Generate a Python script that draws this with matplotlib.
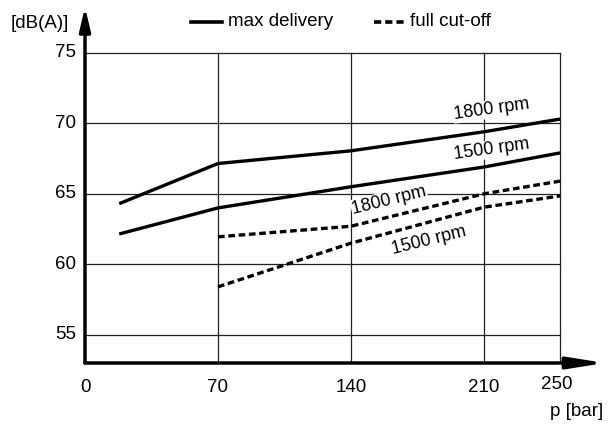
import matplotlib.pyplot as plt

plt.rcParams['font.family'] = ['Liberation Sans', 'DejaVu Sans']

p_max = [18, 70, 140, 210, 250]
max_1800 = [64.3, 67.15, 68.05, 69.4, 70.3]
max_1500 = [62.15, 64.0, 65.5, 66.9, 67.9]

p_cut = [70, 140, 210, 250]
cut_1800 = [61.95, 62.7, 65.0, 65.9]
cut_1500 = [58.4, 61.5, 64.05, 64.85]

x_ticks = [0, 70, 140, 210, 250]
y_ticks = [55, 60, 65, 70, 75]

FS = 13.5
DASH = (0, (2.0, 1.1))
X0, X1 = 0, 273.7
Y0, Y1 = 53.0, 78.25

fig = plt.figure(figsize=(6.16, 4.3), dpi=100)
ax = fig.add_axes([85 / 616, 67 / 430, 520 / 616, 356 / 430])
ax.set_xlim(X0, X1)
ax.set_ylim(Y0, Y1)
ax.axis('off')

# grid
for y in y_ticks:
    ax.plot([0, 250], [y, y], color='#222222', lw=0.9, zorder=1)
    ax.text(-4.5, y, str(y), ha='right', va='center', fontsize=FS)
for x in x_ticks[1:]:
    ax.plot([x, x], [Y0, 75], color='#222222', lw=0.9, zorder=1)
x_shift = {0: 0.5, 250: -1.6}
for x in x_ticks:
    ax.text(x + x_shift.get(x, 0), 51.47 if x == 250 else 51.23, str(x),
            ha='center', va='center', fontsize=FS)

# axes with arrows
ax.annotate('', xy=(X1, Y0), xytext=(0, Y0),
            arrowprops=dict(arrowstyle='-|>,head_length=2.2,head_width=0.35',
                            lw=2.5, color='black', shrinkA=0, shrinkB=0))
ax.annotate('', xy=(0, Y1), xytext=(0, Y0),
            arrowprops=dict(arrowstyle='-|>,head_length=1.4,head_width=0.33',
                            lw=2.5, color='black', shrinkA=0, shrinkB=0))

ax.plot(p_max, max_1800, color='black', lw=2.4, solid_capstyle='butt', zorder=3)
ax.plot(p_max, max_1500, color='black', lw=2.4, solid_capstyle='butt', zorder=3)
ax.plot(p_cut, cut_1800, color='black', lw=2.4, ls=DASH, zorder=3)
ax.plot(p_cut, cut_1500, color='black', lw=2.4, ls=DASH, zorder=3)

ax.text(214, 71.0, '1800 rpm', rotation=8, ha='center', va='center', fontsize=13,
        bbox=dict(facecolor='white', edgecolor='none', pad=0.5))
ax.text(214, 68.15, '1500 rpm', rotation=8, ha='center', va='center', fontsize=13,
        bbox=dict(facecolor='white', edgecolor='none', pad=0.5))
ax.text(160, 64.55, '1800 rpm', rotation=14, ha='center', va='center', fontsize=13,
        bbox=dict(facecolor='white', edgecolor='none', pad=0.5))
ax.text(181, 61.7, '1500 rpm', rotation=14, ha='center', va='center', fontsize=13)

# labels
fig.text(40 / 616, 1 - 24 / 430, '[dB(A)]', ha='center', va='center', fontsize=FS)
fig.text(577 / 616, 1 - 412 / 430, 'p [bar]', ha='center', va='center', fontsize=FS)

# legend
ly = 1 - 22 / 430
fig.lines.append(plt.Line2D([191 / 616, 222 / 616], [ly, ly],
                            color='black', lw=2.6, transform=fig.transFigure))
fig.text(228 / 616, ly, 'max delivery', ha='left', va='center', fontsize=FS)
fig.lines.append(plt.Line2D([374 / 616, 404 / 616], [ly, ly],
                            color='black', lw=2.6, ls=DASH,
                            transform=fig.transFigure))
fig.text(410 / 616, ly, 'full cut-off', ha='left', va='center', fontsize=FS)

fig.savefig('out.png', dpi=100)
